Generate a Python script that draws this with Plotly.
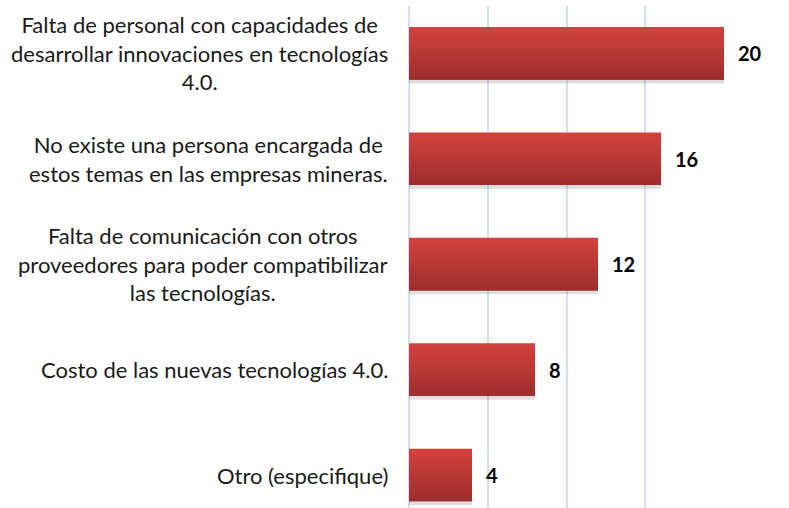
import plotly.graph_objects as go

# Survey results: barriers to adopting 4.0 technologies
categories = [
    "Falta de personal con capacidades de<br>desarrollar innovaciones en tecnologías<br>4.0.",
    "No existe una persona encargada de<br>estos temas en las empresas mineras.",
    "Falta de comunicación con otros<br>proveedores para poder compatibilizar<br>las tecnologías.",
    "Costo de las nuevas tecnologías 4.0.",
    "Otro (especifique)",
]
values = [20, 16, 12, 8, 4]

FONT = "Lato"
BAR_W = 0.5
N_SLICES = 30
TOP_RGB = (211, 66, 62)
BOT_RGB = (158, 46, 44)
GRID = "#d3e0f2"

fig = go.Figure()

# soft drop shadow under each bar
fig.add_trace(go.Bar(
    y=categories, x=values, orientation="h",
    width=BAR_W, offset=-BAR_W / 2 + 0.035,
    marker=dict(color="rgba(90,90,90,0.20)", line=dict(width=0)),
    hoverinfo="skip", showlegend=False,
))

# vertical gradient fill built from thin horizontal slices
slice_w = BAR_W / N_SLICES
for i in range(N_SLICES):
    t = i / (N_SLICES - 1)
    r, g, b = (round(TOP_RGB[k] + (BOT_RGB[k] - TOP_RGB[k]) * t) for k in range(3))
    fig.add_trace(go.Bar(
        y=categories, x=values, orientation="h",
        width=slice_w * (2.0 if i < N_SLICES - 1 else 1.0),
        offset=-BAR_W / 2 + i * slice_w,
        marker=dict(color=f"rgb({r},{g},{b})", line=dict(width=0)),
        hoverinfo="skip", showlegend=False,
    ))

# value labels to the right of each bar
for cat, val in zip(categories, values):
    fig.add_annotation(
        x=val, y=cat, xref="x", yref="y", text=f"<b>{val}</b>",
        showarrow=False, xanchor="left", xshift=12,
        font=dict(family=FONT, size=20, color="#000000"),
    )

# centred multi-line category labels left of the axis
for cat in categories:
    fig.add_annotation(
        x=0, y=cat, xref="paper", yref="y", text=cat,
        showarrow=False, xanchor="right", align="center", xshift=-19,
        font=dict(family=FONT, size=22, color="#1a1a1a"),
    )

fig.update_layout(
    width=789, height=508,
    margin=dict(l=409, r=65, t=6, b=0),
    paper_bgcolor="white", plot_bgcolor="white",
    barmode="overlay",
    xaxis=dict(
        range=[0, 20], dtick=5, showgrid=True, gridcolor=GRID, gridwidth=1.5,
        zeroline=True, zerolinecolor=GRID, zerolinewidth=1.5,
        showticklabels=False, showline=False, ticks="", fixedrange=True,
    ),
    yaxis=dict(
        type="category", categoryorder="array", categoryarray=categories,
        range=[4.313, -0.449], showticklabels=False, showgrid=False,
        zeroline=False, showline=False, ticks="", fixedrange=True,
    ),
)

fig.write_html("out.html", config={"displayModeBar": False})
